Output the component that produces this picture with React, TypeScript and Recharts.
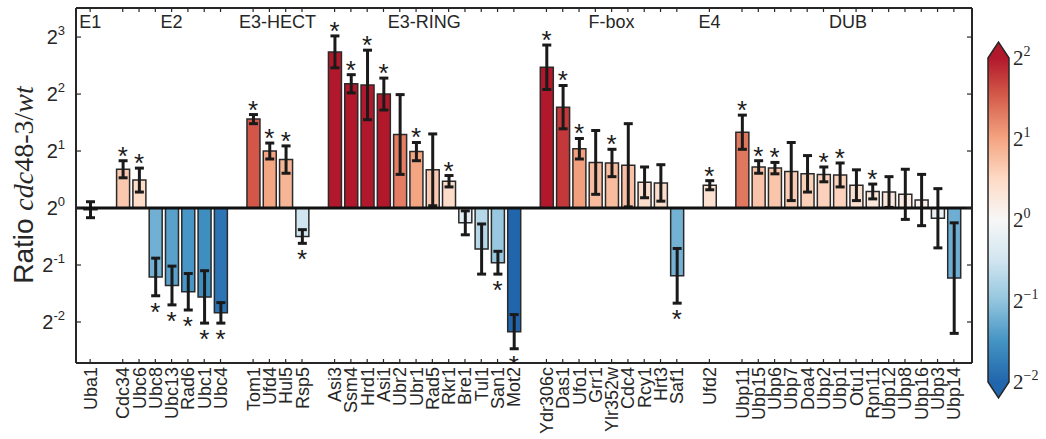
import React from 'react'
import { ComposedChart, Bar, Cell, ErrorBar, Scatter, XAxis, YAxis, ReferenceLine } from 'recharts'

const groups = ['E1', 'E2', 'E3-HECT', 'E3-RING', 'F-box', 'E4', 'DUB']

const genes = [
  ['Uba1'],
  ['Cdc34', 'Ubc6', 'Ubc8', 'Ubc13', 'Rad6', 'Ubc1', 'Ubc4'],
  ['Tom1', 'Ufd4', 'Hul5', 'Rsp5'],
  ['Asi3', 'Ssm4', 'Hrd1', 'Asi1', 'Ubr2', 'Ubr1', 'Rad5', 'Rkr1', 'Bre1', 'Tul1', 'San1', 'Mot2'],
  ['Ydr306c', 'Das1', 'Ufo1', 'Grr1', 'Ylr352w', 'Cdc4', 'Rcy1', 'Hrt3', 'Saf1'],
  ['Ufd2'],
  ['Ubp11', 'Ubp15', 'Ubp6', 'Ubp7', 'Doa4', 'Ubp2', 'Ubp1', 'Otu1', 'Rpn11', 'Ubp12', 'Ubp8', 'Ubp16', 'Ubp3', 'Ubp14'],
]

// log2 of cdc48-3 / wt
const log2Ratio = [
  [-0.03],
  [0.68, 0.49, -1.21, -1.36, -1.47, -1.56, -1.84],
  [1.56, 1.0, 0.85, -0.5],
  [2.74, 2.18, 2.16, 2.0, 1.29, 0.99, 0.67, 0.47, -0.26, -0.72, -0.96, -2.17],
  [2.47, 1.77, 1.04, 0.8, 0.79, 0.75, 0.45, 0.44, -1.19],
  [0.4],
  [1.33, 0.72, 0.7, 0.64, 0.6, 0.59, 0.58, 0.4, 0.29, 0.28, 0.24, 0.14, -0.18, -1.23],
]

const log2Err = [
  [0.14],
  [0.15, 0.21, 0.33, 0.34, 0.32, 0.46, 0.18],
  [0.08, 0.14, 0.24, 0.12],
  [0.28, 0.16, 0.61, 0.28, 0.7, 0.16, 0.63, 0.1, 0.21, 0.44, 0.2, 0.3],
  [0.39, 0.38, 0.18, 0.56, 0.24, 0.73, 0.27, 0.32, 0.48],
  [0.08],
  [0.3, 0.11, 0.1, 0.51, 0.32, 0.13, 0.21, 0.27, 0.13, 0.27, 0.44, 0.45, 0.52, 0.97],
]

const significant = [
  [0],
  [1, 1, 1, 1, 1, 1, 1],
  [1, 1, 1, 1],
  [1, 1, 1, 1, 0, 1, 0, 1, 0, 0, 1, 1],
  [1, 1, 1, 0, 1, 0, 0, 0, 1],
  [1],
  [1, 1, 1, 0, 0, 1, 1, 0, 1, 0, 0, 0, 0, 0],
]

const yTicks = [-2, -1, 0, 1, 2, 3]
const cbTicks = [2, 1, 0, -1, -2]

const cmap = ['#2166ac', '#4393c3', '#92c5de', '#d1e5f0', '#f7f7f7', '#fddbc7', '#f4a582', '#d6604d', '#b2182b']
const TXT = '#262626'
const BAND = 16.3

function hex(c: string) {
  return [1, 3, 5].map((i) => parseInt(c.slice(i, i + 2), 16))
}
function colorFor(v: number) {
  const t = Math.max(0, Math.min(1, (v + 2) / 4)) * (cmap.length - 1)
  const i = Math.min(cmap.length - 2, Math.floor(t))
  const f = t - i
  const a = hex(cmap[i])
  const b = hex(cmap[i + 1])
  return 'rgb(' + a.map((x, k) => Math.round(x + (b[k] - x) * f)).join(',') + ')'
}

const data: any[] = []
groups.forEach((g, gi) => {
  if (gi > 0) data.push({ name: '_gap' + gi, value: null, err: 0, star: null })
  const n = genes[gi].length
  const mid = (n - 1) / 2
  genes[gi].forEach((name, i) => {
    const v = log2Ratio[gi][i]
    const e = log2Err[gi][i]
    data.push({
      name,
      value: v,
      err: e,
      up: v >= 0,
      star: significant[gi][i] ? (v >= 0 ? v + e : v - e) : null,
      group: i === Math.floor(mid) ? g : '',
      shift: mid - Math.floor(mid),
    })
  })
})

const Pow = ({ x, y, e, size, sup, family, anchor }: any) => (
  <text x={x} y={y} textAnchor={anchor} fontSize={size} fontFamily={family} fill={TXT}>
    2<tspan dy={-size * 0.45} fontSize={sup}>{e}</tspan>
  </text>
)

const LeftTick = ({ x, y, payload }: any) => (
  <g>
    <line x1={x} x2={x + 5} y1={y} y2={y} stroke={TXT} strokeWidth={1.2} />
    <Pow x={x - 11} y={y + 7} e={String(payload.value)} size={20} sup={13} family="Liberation Sans, Arial" anchor="end" />
  </g>
)

const RightTick = ({ x, y }: any) => <line x1={x - 5} x2={x} y1={y} y2={y} stroke={TXT} strokeWidth={1.2} />

const BottomTick = ({ x, y, payload }: any) => {
  const name = String(payload.value)
  if (name.startsWith('_')) return null
  const tx = x + 6.5
  const ty = y + 4
  return (
    <g>
      <line x1={x} x2={x} y1={y} y2={y - 4} stroke={TXT} strokeWidth={1.2} />
      <text x={tx} y={ty} transform={`rotate(-90, ${tx}, ${ty})`} textAnchor="end" fontSize={18} fontFamily="Liberation Sans, Arial" fill={TXT}>
        {name}
      </text>
    </g>
  )
}

const TopTick = ({ x, y, payload, index }: any) => {
  const name = String(payload.value)
  if (name.startsWith('_')) return null
  const d = data[index]
  return (
    <g>
      <line x1={x} x2={x} y1={y} y2={y + 4} stroke={TXT} strokeWidth={1.2} />
      {d && d.group ? (
        <text x={x + d.shift * BAND} y={y + 20} textAnchor="middle" fontSize={18} fontFamily="Liberation Sans, Arial" fill={TXT}>
          {d.group}
        </text>
      ) : null}
    </g>
  )
}

const Star = (p: any) => {
  const d = p.payload
  if (!d || d.star == null) return <g />
  return (
    <text x={p.cx} y={d.up ? p.cy + 4 : p.cy + 25} textAnchor="middle" fontSize={26} fontFamily="Liberation Sans, Arial" fill="#1a1a1a">
      *
    </text>
  )
}

export default function App() {
  const cbTop = 58
  const cbBottom = 382
  const cbStep = (cbBottom - cbTop) / (cbTicks.length - 1)
  return (
    <div style={{ position: 'absolute', left: 0, top: 0, width: 1046, height: 439, background: '#fff' }}>
      <ComposedChart width={1046} height={439} data={data} margin={{ top: 7, right: 73, bottom: 0, left: 0 }} barCategoryGap={0}>
        <XAxis
          dataKey="name"
          type="category"
          interval={0}
          height={76}
          padding={{ left: 6, right: 10 }}
          tickSize={0}
          tickMargin={0}
          tickLine={false}
          axisLine={{ stroke: TXT, strokeWidth: 2 }}
          tick={(p: any) => <BottomTick {...p} />}
        />
        <XAxis
          xAxisId="t"
          dataKey="name"
          type="category"
          orientation="top"
          interval={0}
          height={1}
          padding={{ left: 6, right: 10 }}
          tickSize={0}
          tickMargin={0}
          tickLine={false}
          axisLine={{ stroke: TXT, strokeWidth: 2 }}
          tick={(p: any) => <TopTick {...p} />}
        />
        <YAxis
          type="number"
          domain={[-2.72, 3.51]}
          ticks={yTicks}
          allowDataOverflow
          width={76}
          tickSize={0}
          tickMargin={0}
          tickLine={false}
          axisLine={{ stroke: TXT, strokeWidth: 2 }}
          tick={(p: any) => <LeftTick {...p} />}
        />
        <YAxis
          yAxisId="r"
          orientation="right"
          type="number"
          domain={[-2.72, 3.51]}
          ticks={yTicks}
          allowDataOverflow
          width={1}
          tickSize={0}
          tickMargin={0}
          tickLine={false}
          axisLine={{ stroke: TXT, strokeWidth: 2 }}
          tick={(p: any) => <RightTick {...p} />}
        />
        <Bar dataKey="value" barSize={13} stroke="#2a2a2a" strokeWidth={1.5} isAnimationActive={false}>
          {data.map((d, i) => (
            <Cell key={i} fill={d.value == null ? 'none' : colorFor(d.value)} stroke={d.value == null ? 'none' : '#2a2a2a'} />
          ))}
          <ErrorBar dataKey="err" direction="y" width={4.5} strokeWidth={3} stroke="#1a1a1a" />
        </Bar>
        <ReferenceLine y={0} stroke="#111" strokeWidth={3} />
        <Scatter xAxisId="t" yAxisId="r" dataKey="star" shape={(p: any) => <Star {...p} />} isAnimationActive={false} />
      </ComposedChart>
      <svg width={1046} height={439} style={{ position: 'absolute', left: 0, top: 0, pointerEvents: 'none' }}>
        <defs>
          <linearGradient id="cbar" x1="0" y1="1" x2="0" y2="0">
            {cmap.map((c, i) => (
              <stop key={i} offset={i / (cmap.length - 1)} stopColor={c} />
            ))}
          </linearGradient>
        </defs>
        <polygon points={`988,${cbTop} 998.5,${cbTop - 16} 1009,${cbTop}`} fill={cmap[cmap.length - 1]} />
        <rect x={988} y={cbTop} width={21} height={cbBottom - cbTop} fill="url(#cbar)" />
        <polygon points={`988,${cbBottom} 998.5,${cbBottom + 16} 1009,${cbBottom}`} fill={cmap[0]} />
        <polygon
          points={`988,${cbTop} 998.5,${cbTop - 16} 1009,${cbTop} 1009,${cbBottom} 998.5,${cbBottom + 16} 988,${cbBottom}`}
          fill="none"
          stroke={TXT}
          strokeWidth={1.5}
        />
        {cbTicks.map((k, i) => (
          <Pow
            key={k}
            x={1013}
            y={cbTop + i * cbStep + 7}
            e={k < 0 ? '\u2212' + -k : String(k)}
            size={21}
            sup={14}
            family="Liberation Serif, Times New Roman, serif"
            anchor="start"
          />
        ))}
        <text x={33} y={185} transform="rotate(-90, 33, 185)" textAnchor="middle" fontSize={28} fill={TXT}>
          <tspan fontFamily="Liberation Sans, Arial">Ratio </tspan>
          <tspan fontFamily="Liberation Serif, serif" fontStyle="italic">cdc</tspan>
          <tspan fontFamily="Liberation Serif, serif">48-3/</tspan>
          <tspan fontFamily="Liberation Serif, serif" fontStyle="italic">wt</tspan>
        </text>
      </svg>
    </div>
  )
}
